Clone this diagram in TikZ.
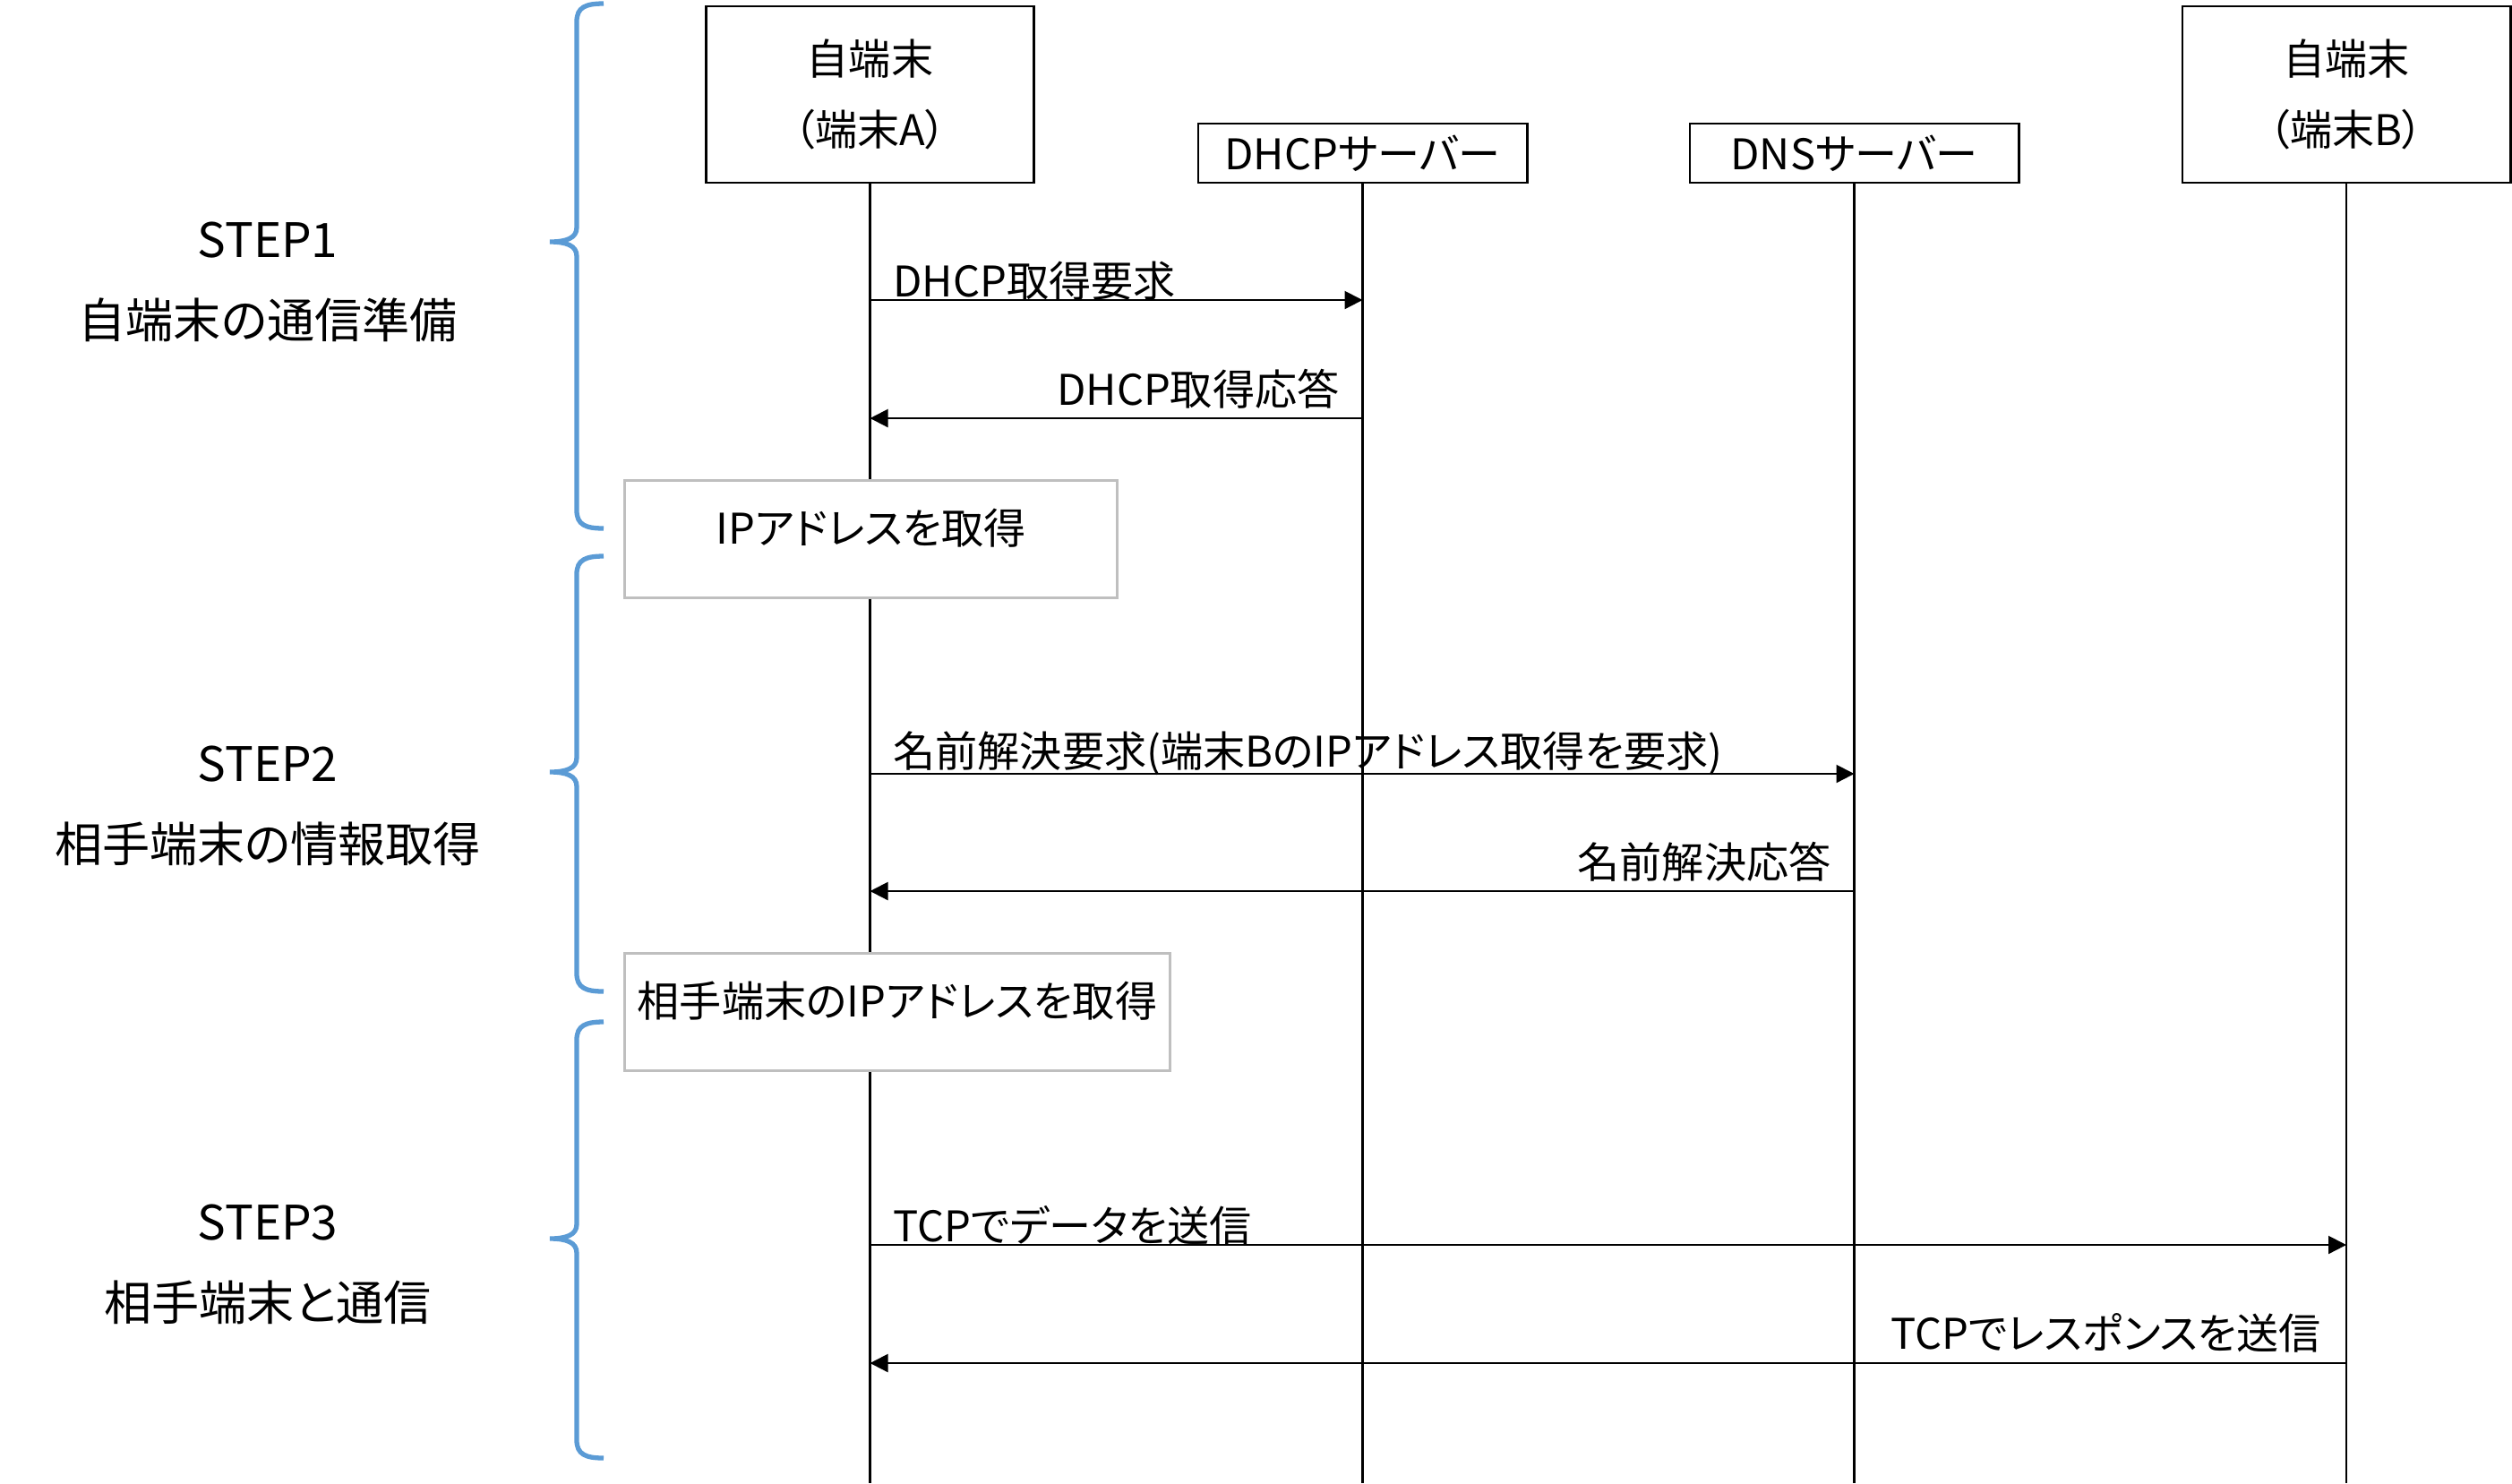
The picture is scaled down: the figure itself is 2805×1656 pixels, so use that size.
\documentclass[tikz,border=0pt]{standalone}
\usepackage{fontspec}
\setmainfont[RawFeature=+palt]{Noto Sans CJK JP}
\usetikzlibrary{arrows.meta}
\usetikzlibrary{positioning}
\definecolor{braceblue}{RGB}{91,155,213}
\definecolor{notegray}{RGB}{191,191,191}
\newcommand{\msgfont}{\fontsize{13.4pt}{22.5pt}\selectfont}
\tikzstyle{device} = [rectangle, draw=black, line width=0.8pt, fill=white, minimum width=3.66cm, minimum height=1.97cm, align=center, font=\msgfont]
\tikzstyle{server} = [rectangle, draw=black, line width=0.8pt, fill=white, minimum width=3.67cm, minimum height=0.66cm, inner sep=0pt, font=\msgfont]
\tikzstyle{note} = [rectangle, draw=notegray, line width=0.8pt, fill=white, inner xsep=0pt, inner ysep=0pt, text height=0.71cm, text depth=0.60cm, anchor=north, font=\msgfont]
\tikzstyle{lifeline} = [line width=0.6pt]
\tikzstyle{arrow} = [line width=0.6pt, -{Triangle[length=0.2cm,width=0.2cm]}]
\tikzstyle{msglabel} = [inner sep=0pt, font=\msgfont]
\tikzstyle{stepbrace} = [draw=braceblue, line width=1.5pt]
\tikzstyle{steplabel} = [align=center, font=\fontsize{15.1pt}{25.6pt}\selectfont]

\begin{document}
\begin{tikzpicture}[x=0.01cm, y=-0.01cm]
\useasboundingbox (0,0) rectangle (2805,1656);

% Participants
\node (devA) [device] at (971.5,105.5) {自端末\\（端末A）};
\node (dhcp) [server] at (1521.5,171) {DHCPサーバー};
\node (dns) [server] at (2070.5,171) {DNSサーバー};
\node (devB) [device] at (2620,105.5) {自端末\\（端末B）};

% Lifelines
\coordinate (bottom) at (0,1656);
\foreach \p in {devA, dhcp, dns, devB}
  \draw [lifeline] (\p.south) -- (\p |- bottom);

% Notes on terminal A
\node (ipnote) [note, minimum width=5.49cm] at (972.5,535) {IPアドレスを取得};
\node (peernote) [note, minimum width=6.08cm] at (1002,1063) {相手端末のIPアドレスを取得};

% Message rows
\coordinate (dhcpreq) at (0,335);
\coordinate (dhcpres) at (0,467);
\coordinate (dnsreq) at (0,864);
\coordinate (dnsres) at (0,995);
\coordinate (tcpreq) at (0,1390);
\coordinate (tcpres) at (0,1522);

% Messages
\draw [arrow] (devA |- dhcpreq) -- node[msglabel, pos=0, anchor=base west, xshift=0.25cm, yshift=0.04cm] {DHCP取得要求} (dhcp |- dhcpreq);
\draw [arrow] (dhcp |- dhcpres) -- node[msglabel, pos=0, anchor=base east, xshift=-0.25cm, yshift=0.15cm] {DHCP取得応答} (devA |- dhcpres);
\draw [arrow] (devA |- dnsreq) -- node[msglabel, pos=0, anchor=base west, xshift=0.25cm, yshift=0.08cm] {名前解決要求(端末BのIPアドレス取得を要求)} (dns |- dnsreq);
\draw [arrow] (dns |- dnsres) -- node[msglabel, pos=0, anchor=base east, xshift=-0.25cm, yshift=0.15cm] {名前解決応答} (devA |- dnsres);
\draw [arrow] (devA |- tcpreq) -- node[msglabel, pos=0, anchor=base west, xshift=0.25cm, yshift=0.04cm] {TCPでデータを送信} (devB |- tcpreq);
\draw [arrow] (devB |- tcpres) -- node[msglabel, pos=0, anchor=base east, xshift=-0.27cm, yshift=0.16cm] {TCPでレスポンスを送信} (devA |- tcpres);

% Step braces
\foreach \btop/\btip/\bbot in {4/270/590, 621/862/1107, 1141/1383/1628}
  \draw [stepbrace] (674,\btop) .. controls (654,\btop) and (644,\btop+4) .. (644,\btop+20)
    -- (644,\btip-16) .. controls (644,\btip-4) and (632,\btip) .. (614,\btip)
    .. controls (632,\btip) and (644,\btip+4) .. (644,\btip+16)
    -- (644,\bbot-20) .. controls (644,\bbot-4) and (654,\bbot) .. (674,\bbot);

% Step labels
\node (step1) [steplabel] at (299,315) {STEP1\\自端末の通信準備};
\node (step2) [steplabel] at (299,900) {STEP2\\相手端末の情報取得};
\node (step3) [steplabel] at (299,1412) {STEP3\\相手端末と通信};

\end{tikzpicture}
\end{document}
